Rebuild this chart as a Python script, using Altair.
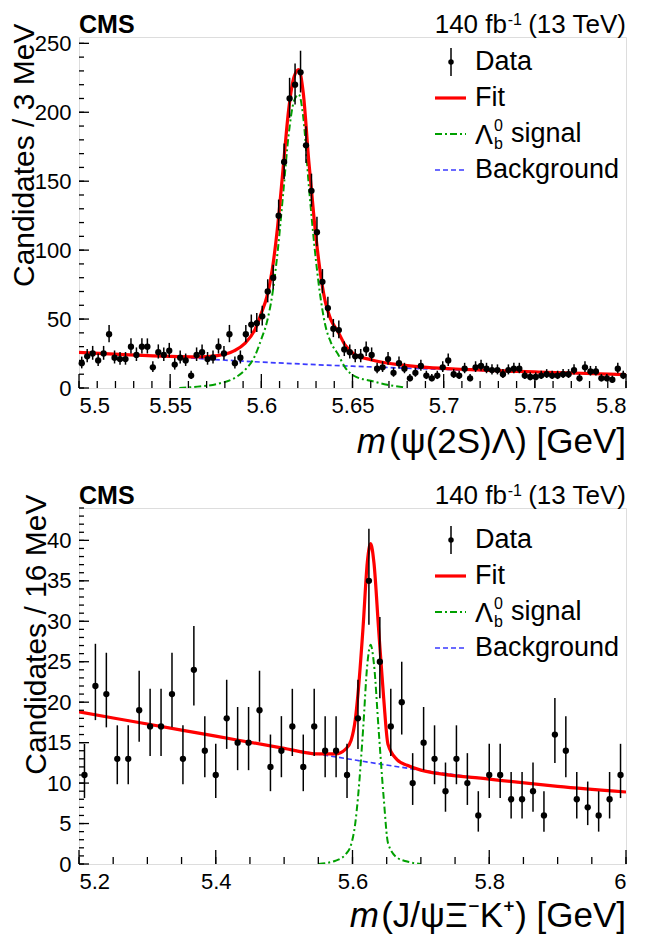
import altair as alt
import pandas as pd
import numpy as np

FONT = "Liberation Sans"

# ---------------- top panel: m(psi(2S) Lambda), 3 MeV bins ----------------
top_edges = [5.5, 5.8]
top_bin = 0.003
top_counts = [18, 23, 25, 20, 25, 39, 22, 21, 21, 30,
              24, 30, 30, 15, 26, 24, 27, 17, 22, 20,
              9, 24, 26, 21, 22, 30, 25, 39, 18, 22,
              39, 46, 47, 52, 70, 80, 125, 164, 210, 220,
              229, 176, 143, 113, 77, 58, 43, 42, 28, 26,
              23, 23, 28, 24, 14, 15, 21, 11, 18, 14,
              7, 11, 16, 9, 7, 9, 15, 20, 10, 9,
              14, 7, 15, 16, 14, 13, 13, 10, 13, 14,
              14, 9, 8, 8, 9, 10, 9, 9, 10, 10,
              13, 7, 15, 12, 12, 7, 7, 6, 14, 9]

top_fit_x = [5.500, 5.525, 5.550, 5.565, 5.576, 5.585, 5.591, 5.5964, 5.600, 5.603,
             5.606, 5.609, 5.612, 5.615, 5.618, 5.6205, 5.623, 5.626, 5.629, 5.632,
             5.635, 5.638, 5.642, 5.646, 5.651, 5.660, 5.679, 5.715, 5.752, 5.800]
top_fit_y = [25.9, 24.2, 22.9, 22.6, 23.5, 26.9, 32.3, 42.1, 54.3, 66,
             86, 118, 160, 202, 226, 231, 214, 165, 122, 87,
             63, 50, 41, 31, 24.5, 20.5, 16.4, 13.3, 11.6, 9.7]

top_sig_x = [5.555, 5.565, 5.576, 5.585, 5.591, 5.5964, 5.600, 5.603, 5.606, 5.609,
             5.612, 5.615, 5.618, 5.6205, 5.623, 5.626, 5.629, 5.632, 5.635, 5.638,
             5.642, 5.646, 5.651, 5.660, 5.669, 5.679]
top_sig_y = [0, 1.0, 3.0, 7, 13, 23, 35.5, 47.5, 67.5, 99.5,
             141.5, 184, 208.5, 213, 196.5, 147.5, 104.5, 70, 46, 33.5,
             24.6, 14.8, 8.7, 5.2, 2.4, 0.4]

top_bkg_x = [5.500, 5.525, 5.550, 5.575, 5.600, 5.625, 5.650, 5.675, 5.700, 5.725, 5.750, 5.775, 5.800]
top_bkg_y = [25.8, 24.2, 22.7, 20.6, 18.8, 17.2, 15.8, 14.6, 13.5, 12.5, 11.6, 10.6, 9.7]

top_xticks = [5.5, 5.55, 5.6, 5.65, 5.7, 5.75, 5.8]
top_yticks = [0, 50, 100, 150, 200, 250]

# ---------------- bottom panel: m(J/psi Xi- K+), 16 MeV bins ----------------
bot_edges = [5.2, 6.0]
bot_bin = 0.016
bot_counts = [11, 22, 21, 13, 13, 19, 17, 17, 21, 13,
              24, 14, 11, 18, 15, 15, 19, 12, 14, 17,
              12, 17, 14, 14, 11, 18, 35, 25, 17, 20,
              10, 15, 13, 9, 13, 10, 6, 11, 11, 8,
              8, 9, 6, 16, 14, 8, 7, 6, 8, 11]

bot_fit_x = [5.2, 5.3, 5.4, 5.5, 5.55, 5.575, 5.59, 5.598, 5.604, 5.608,
             5.6154, 5.6217, 5.6265, 5.6314, 5.6383, 5.6456, 5.6519, 5.665, 5.68, 5.7,
             5.8, 5.9, 6.0]
bot_fit_y = [18.8, 17.3, 15.8, 14.3, 13.6, 13.6, 14.2, 15.3, 17.8, 21.0,
             29.2, 37.3, 39.6, 37.2, 28.9, 20.5, 14.8, 12.9, 12.2, 11.6,
             10.5, 9.6, 8.9]

bot_sig_x = [5.55, 5.575, 5.59, 5.598, 5.604, 5.608, 5.6154, 5.6217, 5.6265, 5.6314,
             5.6383, 5.6456, 5.6519, 5.665, 5.68, 5.70]
bot_sig_y = [0, 0.4, 1.2, 2.4, 5.0, 8.2, 16.5, 24.7, 27.1, 24.7,
             16.5, 8.2, 2.6, 0.8, 0.3, 0]

bot_bkg_x = [5.2, 5.3, 5.4, 5.5, 5.6, 5.7, 5.8, 5.9, 6.0]
bot_bkg_y = [18.8, 17.3, 15.8, 14.3, 12.9, 11.6, 10.5, 9.6, 8.9]

bot_xticks = [5.2, 5.4, 5.6, 5.8, 6.0]
bot_yticks = [0, 5, 10, 15, 20, 25, 30, 35, 40]

RED = "#ff0000"
GREEN = "#00a000"
BLUE = "#3a3aff"

W = 547
LEG = 27
XT = 35


def one(s):
    return pd.DataFrame({"t": [s]})


def txt(s, x, y, size, align="left", baseline="alphabetic", **kw):
    return alt.Chart(one(s)).mark_text(
        align=align, baseline=baseline, fontSize=size, font=FONT, color="black", **kw
    ).encode(x=alt.value(x), y=alt.value(y), text="t:N")


def panel(edges, binw, counts, fit, sig, bkg, xticks, yticks, ymax, H, ytitle,
          xminor_step, yminor_step, xtitle_rest, rest_width, ty, leg_rows):
    n = len(counts)
    centers = [round(edges[0] + binw * (i + 0.5), 5) for i in range(n)]
    c = np.array(counts, dtype=float)
    lo = c + 0.5 - np.sqrt(c + 0.25)
    hi = c + 0.5 + np.sqrt(c + 0.25)
    data = pd.DataFrame({"x": centers, "y": counts, "lo": lo, "hi": hi})

    xs = alt.Scale(domain=edges, nice=False, zero=False)
    ys = alt.Scale(domain=[0, ymax], nice=False, zero=True)
    xax = alt.Axis(values=xticks, format="~g", ticks=False, domain=False, grid=False,
                   labelFontSize=22, labelFont=FONT, labelPadding=7, labelColor="black",
                   title=None)
    yax = alt.Axis(values=yticks, ticks=False, domain=False, grid=False,
                   labelFontSize=22, labelFont=FONT, labelPadding=8, labelColor="black",
                   title=ytitle, titleFontSize=30, titleFont=FONT, titleFontWeight="normal",
                   titleAnchor="end", titleY=-14, titlePadding=-5, titleColor="black")
    X = alt.X("x:Q", scale=xs, axis=xax)
    Y = alt.Y("y:Q", scale=ys, axis=yax)

    def curve(xv, yv, color, width, dash=None):
        kw = dict(color=color, strokeWidth=width, interpolate="monotone", clip=True)
        if dash:
            kw["strokeDash"] = dash
        return alt.Chart(pd.DataFrame({"x": xv, "y": yv})).mark_line(**kw).encode(x=X, y=Y)

    layers = [
        curve(bkg[0], bkg[1], BLUE, 1.7, [5, 3]),
        curve(sig[0], sig[1], GREEN, 2.0, [7, 3, 2, 3]),
        curve(fit[0], fit[1], RED, 3.2),
        alt.Chart(data).mark_rule(color="black", strokeWidth=1.5).encode(
            x=X, y=alt.Y("lo:Q", scale=ys, axis=yax), y2="hi:Q"),
        alt.Chart(data).mark_circle(color="black", opacity=1, size=40).encode(x=X, y=Y),
    ]

    # inward ticks
    xmin_t = list(np.round(np.arange(edges[0], edges[1] + 1e-9, xminor_step), 4))
    ymin_t = list(np.round(np.arange(0, ymax + 1e-9, yminor_step), 4))
    for vals, ln in ((xmin_t, 7), (xticks, 14)):
        layers.append(alt.Chart(pd.DataFrame({"x": vals})).mark_rule(color="black", strokeWidth=1.3)
                      .encode(x=X, y=alt.value(H), y2=alt.value(H - ln)))
    for vals, ln in ((ymin_t, 5), (yticks, 10)):
        layers.append(alt.Chart(pd.DataFrame({"y": vals})).mark_rule(color="black", strokeWidth=1.3)
                      .encode(y=Y, x=alt.value(0), x2=alt.value(ln)))

    # header texts
    layers.append(txt("CMS", 0, -4, 25, fontWeight="bold"))
    layers.append(txt("(13 TeV)", W, -4, 26, align="right"))
    layers.append(txt("-1", W - 104, -12, 16, align="right"))
    layers.append(txt("140 fb", W - 119, -4, 26, align="right"))

    # x title
    layers.append(txt(xtitle_rest, W, ty, XT, align="right"))
    layers.append(txt("m", W - rest_width - 7, ty, XT, align="right", fontStyle="italic"))

    # legend
    r1, r2, r3, r4 = leg_rows
    lx0, lx1, mxk, tx = 356, 387, 372, 396
    layers.append(alt.Chart(one("d")).mark_rule(color="black", strokeWidth=1.5).encode(
        x=alt.value(mxk), y=alt.value(r1 - 14), y2=alt.value(r1 + 14)))
    layers.append(alt.Chart(one("d")).mark_circle(color="black", opacity=1, size=30).encode(
        x=alt.value(mxk), y=alt.value(r1)))
    layers.append(alt.Chart(one("f")).mark_rule(color=RED, strokeWidth=3.2).encode(
        x=alt.value(lx0), x2=alt.value(lx1), y=alt.value(r2)))
    layers.append(alt.Chart(one("s")).mark_rule(color=GREEN, strokeWidth=2, strokeDash=[7, 3, 2, 3]).encode(
        x=alt.value(lx0), x2=alt.value(lx1), y=alt.value(r3)))
    layers.append(alt.Chart(one("b")).mark_rule(color=BLUE, strokeWidth=1.7, strokeDash=[5, 3]).encode(
        x=alt.value(lx0), x2=alt.value(lx1), y=alt.value(r4)))
    layers.append(txt("Data", tx, r1, LEG, baseline="middle"))
    layers.append(txt("Fit", tx, r2, LEG, baseline="middle"))
    layers.append(txt("\u039b", tx, r3 + 10, LEG))
    layers.append(txt("0", tx + 19, r3 - 3, 16))
    layers.append(txt("b", tx + 19, r3 + 15, 16))
    layers.append(txt("signal", tx + 36, r3, LEG, baseline="middle"))
    layers.append(txt("Background", tx, r4, LEG, baseline="middle"))

    return alt.layer(*layers).properties(width=W, height=H)


top = panel(top_edges, top_bin, top_counts, (top_fit_x, top_fit_y), (top_sig_x, top_sig_y),
            (top_bkg_x, top_bkg_y), top_xticks, top_yticks, 254.6, 351, "Candidates / 3 MeV",
            0.01, 10, "(\u03c8(2S)\u039b) [GeV]", 233, 416, (25, 61, 97, 133))
bottom = panel(bot_edges, bot_bin, bot_counts, (bot_fit_x, bot_fit_y), (bot_sig_x, bot_sig_y),
               (bot_bkg_x, bot_bkg_y), bot_xticks, bot_yticks, 44, 356, "Candidates / 16 MeV",
               0.05, 1, "(J/\u03c8\u039e\u207bK\u207a) [GeV]", 240, 419, (32, 68, 104, 140))

chart = alt.vconcat(top, bottom, spacing=21).properties(
    padding={"left": 0, "top": 3, "right": 0, "bottom": 0}
).configure_view(
    stroke="black", strokeWidth=2
).configure(background="white")

chart.save("out.html", embed_options={"renderer": "svg", "actions": False})
